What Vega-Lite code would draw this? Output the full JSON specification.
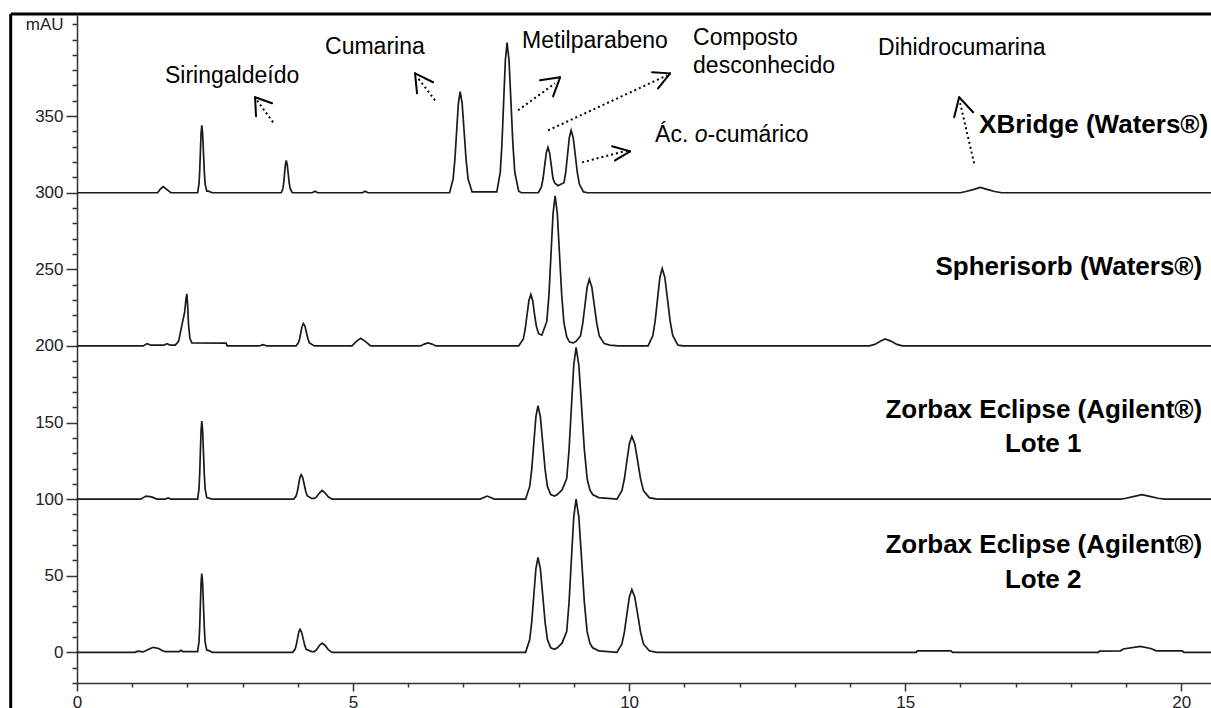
{
"$schema": "https://vega.github.io/schema/vega-lite/v6.json",
"width": 1134, "height": 668,
"autosize": {"type": "none"},
"padding": {"left": 77, "top": 15, "right": 0, "bottom": 25},
"background": "white",
"config": {"view": {"stroke": null}, "font": "Liberation Sans"},
"datasets": {
"traces": [
{"s":"A","t":0,"v":300},{"s":"A","t":1.46,"v":300},{"s":"A","t":1.51,"v":302.4},{"s":"A","t":1.56,"v":304},{"s":"A","t":1.62,"v":302.4},{"s":"A","t":1.70,"v":300},
{"s":"A","t":2.185,"v":300},{"s":"A","t":2.21,"v":305.9},{"s":"A","t":2.2225,"v":314.3},{"s":"A","t":2.235,"v":326.7},{"s":"A","t":2.2475,"v":338.8},{"s":"A","t":2.26,"v":344},{"s":"A","t":2.275,"v":338.8},{"s":"A","t":2.29,"v":326.7},{"s":"A","t":2.305,"v":314.3},{"s":"A","t":2.32,"v":305.9},{"s":"A","t":2.35,"v":301},{"s":"A","t":2.38,"v":301},{"s":"A","t":2.45,"v":300},
{"s":"A","t":3.70,"v":300},{"s":"A","t":3.73,"v":302.8},{"s":"A","t":3.745,"v":306.8},{"s":"A","t":3.76,"v":312.7},{"s":"A","t":3.775,"v":318.5},{"s":"A","t":3.79,"v":321},{"s":"A","t":3.807,"v":318.5},{"s":"A","t":3.825,"v":312.7},{"s":"A","t":3.842,"v":306.8},{"s":"A","t":3.86,"v":302.8},{"s":"A","t":3.90,"v":300},
{"s":"A","t":4.26,"v":300},{"s":"A","t":4.31,"v":301},{"s":"A","t":4.36,"v":300},{"s":"A","t":5.17,"v":300},{"s":"A","t":5.22,"v":301},{"s":"A","t":5.27,"v":300},
{"s":"A","t":6.748,"v":300},{"s":"A","t":6.812,"v":308.9},{"s":"A","t":6.844,"v":321.4},{"s":"A","t":6.876,"v":340},{"s":"A","t":6.908,"v":358.3},{"s":"A","t":6.94,"v":366},{"s":"A","t":6.976,"v":358.3},{"s":"A","t":7.012,"v":340},{"s":"A","t":7.048,"v":321.4},{"s":"A","t":7.084,"v":308.9},{"s":"A","t":7.156,"v":300.5},
{"s":"A","t":7.604,"v":300.5},{"s":"A","t":7.666,"v":313.2},{"s":"A","t":7.697,"v":331.9},{"s":"A","t":7.728,"v":359.5},{"s":"A","t":7.759,"v":386.5},{"s":"A","t":7.79,"v":398},{"s":"A","t":7.825,"v":386.5},{"s":"A","t":7.86,"v":359.5},{"s":"A","t":7.895,"v":331.9},{"s":"A","t":7.93,"v":313.2},{"s":"A","t":8.0,"v":301},{"s":"A","t":8.05,"v":300},
{"s":"A","t":8.356,"v":300},{"s":"A","t":8.414,"v":304},{"s":"A","t":8.443,"v":309.6},{"s":"A","t":8.472,"v":318},{"s":"A","t":8.501,"v":326.1},{"s":"A","t":8.53,"v":329.6},{"s":"A","t":8.56,"v":326.1},{"s":"A","t":8.59,"v":318},{"s":"A","t":8.62,"v":309.6},{"s":"A","t":8.65,"v":306.5},{"s":"A","t":8.71,"v":304.6},
{"s":"A","t":8.82,"v":306.5},{"s":"A","t":8.852,"v":313.2},{"s":"A","t":8.885,"v":324.7},{"s":"A","t":8.917,"v":335.9},{"s":"A","t":8.95,"v":340.7},{"s":"A","t":8.988,"v":335.9},{"s":"A","t":9.025,"v":324.7},{"s":"A","t":9.062,"v":313.2},{"s":"A","t":9.10,"v":305.5},{"s":"A","t":9.175,"v":300.5},{"s":"A","t":9.25,"v":300},
{"s":"A","t":16.0,"v":300},{"s":"A","t":16.1,"v":300.8},{"s":"A","t":16.23,"v":302},{"s":"A","t":16.36,"v":303.5},{"s":"A","t":16.5,"v":302},{"s":"A","t":16.62,"v":300.8},{"s":"A","t":16.75,"v":300},{"s":"A","t":20.6,"v":300},

{"s":"B","t":0,"v":200},{"s":"B","t":1.2,"v":200},{"s":"B","t":1.27,"v":201.5},{"s":"B","t":1.34,"v":200.5},{"s":"B","t":1.57,"v":200.5},{"s":"B","t":1.63,"v":201.5},{"s":"B","t":1.69,"v":200.5},
{"s":"B","t":1.78,"v":200.5},{"s":"B","t":1.84,"v":203},{"s":"B","t":1.88,"v":210},{"s":"B","t":1.92,"v":217},{"s":"B","t":1.95,"v":222},{"s":"B","t":1.975,"v":231},{"s":"B","t":1.99,"v":234},{"s":"B","t":2.005,"v":226},{"s":"B","t":2.02,"v":214},{"s":"B","t":2.045,"v":205},{"s":"B","t":2.08,"v":202},{"s":"B","t":2.7,"v":201.8},{"s":"B","t":2.72,"v":200},
{"s":"B","t":3.3,"v":200},{"s":"B","t":3.37,"v":200.8},{"s":"B","t":3.44,"v":200},
{"s":"B","t":3.965,"v":200},{"s":"B","t":4.01,"v":202},{"s":"B","t":4.033,"v":204.7},{"s":"B","t":4.055,"v":208.9},{"s":"B","t":4.078,"v":212.9},{"s":"B","t":4.10,"v":214.6},{"s":"B","t":4.128,"v":212.9},{"s":"B","t":4.155,"v":208.9},{"s":"B","t":4.183,"v":204.7},{"s":"B","t":4.21,"v":202},{"s":"B","t":4.3,"v":200},
{"s":"B","t":4.98,"v":200},{"s":"B","t":5.06,"v":203},{"s":"B","t":5.14,"v":205},{"s":"B","t":5.22,"v":203},{"s":"B","t":5.32,"v":200},
{"s":"B","t":6.22,"v":200},{"s":"B","t":6.29,"v":201.2},{"s":"B","t":6.36,"v":202},{"s":"B","t":6.43,"v":201.2},{"s":"B","t":6.5,"v":200},
{"s":"B","t":8.0,"v":200},{"s":"B","t":8.084,"v":204.5},{"s":"B","t":8.118,"v":210.9},{"s":"B","t":8.152,"v":220.4},{"s":"B","t":8.186,"v":229.7},{"s":"B","t":8.22,"v":233.6},{"s":"B","t":8.254,"v":229.7},{"s":"B","t":8.288,"v":220.4},{"s":"B","t":8.32,"v":213},{"s":"B","t":8.36,"v":208},{"s":"B","t":8.42,"v":207},
{"s":"B","t":8.46,"v":211},{"s":"B","t":8.51,"v":216},{"s":"B","t":8.548,"v":233},{"s":"B","t":8.585,"v":259.5},{"s":"B","t":8.623,"v":286.5},{"s":"B","t":8.66,"v":298},{"s":"B","t":8.70,"v":286.5},{"s":"B","t":8.74,"v":259.5},{"s":"B","t":8.78,"v":233},{"s":"B","t":8.82,"v":215},{"s":"B","t":8.87,"v":206},{"s":"B","t":8.92,"v":202.5},{"s":"B","t":8.99,"v":202},
{"s":"B","t":9.04,"v":203},{"s":"B","t":9.12,"v":206.5},{"s":"B","t":9.16,"v":214.5},{"s":"B","t":9.20,"v":226.4},{"s":"B","t":9.24,"v":238.4},{"s":"B","t":9.28,"v":243.5},{"s":"B","t":9.325,"v":238.4},{"s":"B","t":9.37,"v":226.4},{"s":"B","t":9.415,"v":214.5},{"s":"B","t":9.46,"v":206.5},{"s":"B","t":9.55,"v":201.5},{"s":"B","t":9.65,"v":200.5},{"s":"B","t":9.8,"v":200},
{"s":"B","t":10.345,"v":200},{"s":"B","t":10.43,"v":206.8},{"s":"B","t":10.4725,"v":216.4},{"s":"B","t":10.515,"v":230.7},{"s":"B","t":10.5575,"v":244.7},{"s":"B","t":10.6,"v":250.6},{"s":"B","t":10.6475,"v":244.7},{"s":"B","t":10.695,"v":230.7},{"s":"B","t":10.7425,"v":216.4},{"s":"B","t":10.79,"v":206.8},{"s":"B","t":10.885,"v":200.5},{"s":"B","t":10.98,"v":200},
{"s":"B","t":14.35,"v":200},{"s":"B","t":14.45,"v":201},{"s":"B","t":14.55,"v":203},{"s":"B","t":14.64,"v":204.5},{"s":"B","t":14.75,"v":203},{"s":"B","t":14.85,"v":201},{"s":"B","t":14.95,"v":200},{"s":"B","t":20.6,"v":200},

{"s":"C","t":0,"v":100},{"s":"C","t":1.15,"v":100},{"s":"C","t":1.25,"v":102},{"s":"C","t":1.35,"v":101.5},{"s":"C","t":1.45,"v":100},{"s":"C","t":1.6,"v":100},{"s":"C","t":1.65,"v":100.8},{"s":"C","t":1.7,"v":100},
{"s":"C","t":2.185,"v":100},{"s":"C","t":2.21,"v":106.9},{"s":"C","t":2.2225,"v":116.6},{"s":"C","t":2.235,"v":131},{"s":"C","t":2.2475,"v":145},{"s":"C","t":2.26,"v":151},{"s":"C","t":2.275,"v":145},{"s":"C","t":2.29,"v":131},{"s":"C","t":2.305,"v":116.6},{"s":"C","t":2.32,"v":106.9},{"s":"C","t":2.35,"v":101},{"s":"C","t":2.45,"v":100},
{"s":"C","t":3.925,"v":100},{"s":"C","t":3.97,"v":102.2},{"s":"C","t":3.9925,"v":105.2},{"s":"C","t":4.015,"v":109.7},{"s":"C","t":4.0375,"v":114.1},{"s":"C","t":4.06,"v":116},{"s":"C","t":4.0875,"v":114.1},{"s":"C","t":4.115,"v":109.7},{"s":"C","t":4.1425,"v":105.2},{"s":"C","t":4.17,"v":102.2},{"s":"C","t":4.25,"v":100.5},{"s":"C","t":4.30,"v":100.5},{"s":"C","t":4.34,"v":101.5},{"s":"C","t":4.39,"v":104},{"s":"C","t":4.44,"v":105.7},{"s":"C","t":4.495,"v":104},{"s":"C","t":4.55,"v":101.5},{"s":"C","t":4.62,"v":100},
{"s":"C","t":7.3,"v":100},{"s":"C","t":7.43,"v":102},{"s":"C","t":7.56,"v":100},
{"s":"C","t":8.125,"v":100},{"s":"C","t":8.2,"v":108.3},{"s":"C","t":8.2375,"v":119.8},{"s":"C","t":8.275,"v":137},{"s":"C","t":8.3125,"v":153.8},{"s":"C","t":8.35,"v":161},{"s":"C","t":8.3925,"v":153.8},{"s":"C","t":8.435,"v":137},{"s":"C","t":8.4775,"v":119.8},{"s":"C","t":8.52,"v":108.3},{"s":"C","t":8.58,"v":103},{"s":"C","t":8.65,"v":102},
{"s":"C","t":8.70,"v":103},{"s":"C","t":8.785,"v":106},{"s":"C","t":8.87,"v":113.4},{"s":"C","t":8.9125,"v":132.2},{"s":"C","t":8.955,"v":160},{"s":"C","t":8.9975,"v":187.4},{"s":"C","t":9.04,"v":199},{"s":"C","t":9.09,"v":187.4},{"s":"C","t":9.14,"v":160},{"s":"C","t":9.19,"v":132.2},{"s":"C","t":9.24,"v":113.4},{"s":"C","t":9.29,"v":106},{"s":"C","t":9.34,"v":103},{"s":"C","t":9.45,"v":101},{"s":"C","t":9.78,"v":100},
{"s":"C","t":9.87,"v":105.5},{"s":"C","t":9.915,"v":113.3},{"s":"C","t":9.96,"v":124.9},{"s":"C","t":10.005,"v":136.2},{"s":"C","t":10.05,"v":141},{"s":"C","t":10.1025,"v":136.2},{"s":"C","t":10.155,"v":124.9},{"s":"C","t":10.2075,"v":113.3},{"s":"C","t":10.26,"v":105.5},{"s":"C","t":10.365,"v":101},{"s":"C","t":10.5,"v":100},
{"s":"C","t":18.9,"v":100},{"s":"C","t":19.0,"v":100.6},{"s":"C","t":19.15,"v":101.8},{"s":"C","t":19.29,"v":103},{"s":"C","t":19.43,"v":101.8},{"s":"C","t":19.58,"v":100.6},{"s":"C","t":19.7,"v":100},{"s":"C","t":20.6,"v":100},

{"s":"D","t":0,"v":0},{"s":"D","t":1.05,"v":0},{"s":"D","t":1.1,"v":0.8},{"s":"D","t":1.2,"v":0.3},{"s":"D","t":1.3,"v":2},{"s":"D","t":1.38,"v":3.3},{"s":"D","t":1.48,"v":2.5},{"s":"D","t":1.55,"v":1},{"s":"D","t":1.6,"v":0.5},{"s":"D","t":1.85,"v":0.5},{"s":"D","t":1.88,"v":1.3},{"s":"D","t":1.92,"v":0.5},
{"s":"D","t":2.185,"v":0.5},{"s":"D","t":2.21,"v":7},{"s":"D","t":2.2225,"v":16.7},{"s":"D","t":2.235,"v":31.2},{"s":"D","t":2.2475,"v":45.5},{"s":"D","t":2.26,"v":51.5},{"s":"D","t":2.275,"v":45.5},{"s":"D","t":2.29,"v":31.2},{"s":"D","t":2.305,"v":16.7},{"s":"D","t":2.32,"v":7},{"s":"D","t":2.35,"v":1.5},{"s":"D","t":2.4,"v":1},{"s":"D","t":2.45,"v":0},
{"s":"D","t":3.905,"v":0},{"s":"D","t":3.95,"v":2},{"s":"D","t":3.9725,"v":4.9},{"s":"D","t":3.995,"v":9.1},{"s":"D","t":4.0175,"v":13.2},{"s":"D","t":4.04,"v":15},{"s":"D","t":4.0675,"v":13.2},{"s":"D","t":4.095,"v":9.1},{"s":"D","t":4.1225,"v":4.9},{"s":"D","t":4.15,"v":2},{"s":"D","t":4.25,"v":0.5},{"s":"D","t":4.30,"v":0.5},{"s":"D","t":4.34,"v":1.8},{"s":"D","t":4.39,"v":4.5},{"s":"D","t":4.44,"v":6},{"s":"D","t":4.495,"v":4.5},{"s":"D","t":4.55,"v":1.8},{"s":"D","t":4.62,"v":0},
{"s":"D","t":8.125,"v":0},{"s":"D","t":8.2,"v":8.4},{"s":"D","t":8.2375,"v":20.1},{"s":"D","t":8.275,"v":37.6},{"s":"D","t":8.3125,"v":54.7},{"s":"D","t":8.35,"v":62},{"s":"D","t":8.3925,"v":54.7},{"s":"D","t":8.435,"v":37.6},{"s":"D","t":8.4775,"v":20.1},{"s":"D","t":8.52,"v":8.4},{"s":"D","t":8.58,"v":3},{"s":"D","t":8.65,"v":2},
{"s":"D","t":8.70,"v":3},{"s":"D","t":8.785,"v":6},{"s":"D","t":8.87,"v":13.5},{"s":"D","t":8.9125,"v":32.5},{"s":"D","t":8.955,"v":60.7},{"s":"D","t":8.9975,"v":88.3},{"s":"D","t":9.04,"v":100},{"s":"D","t":9.09,"v":88.3},{"s":"D","t":9.14,"v":60.7},{"s":"D","t":9.19,"v":32.5},{"s":"D","t":9.24,"v":13.5},{"s":"D","t":9.29,"v":6},{"s":"D","t":9.34,"v":3},{"s":"D","t":9.45,"v":1},{"s":"D","t":9.78,"v":0},
{"s":"D","t":9.87,"v":5.5},{"s":"D","t":9.915,"v":13.3},{"s":"D","t":9.96,"v":24.9},{"s":"D","t":10.005,"v":36.2},{"s":"D","t":10.05,"v":41},{"s":"D","t":10.1025,"v":36.2},{"s":"D","t":10.155,"v":24.9},{"s":"D","t":10.2075,"v":13.3},{"s":"D","t":10.26,"v":5.5},{"s":"D","t":10.365,"v":1},{"s":"D","t":10.5,"v":0},
{"s":"D","t":15.2,"v":0},{"s":"D","t":15.22,"v":1},{"s":"D","t":15.83,"v":1},{"s":"D","t":15.86,"v":0},
{"s":"D","t":18.5,"v":0},{"s":"D","t":18.52,"v":0.8},{"s":"D","t":18.9,"v":1},{"s":"D","t":18.95,"v":2.2},{"s":"D","t":19.26,"v":3.9},{"s":"D","t":19.45,"v":2.5},{"s":"D","t":19.55,"v":1},{"s":"D","t":20.02,"v":1},{"s":"D","t":20.05,"v":0},{"s":"D","t":20.6,"v":0}
],
"labels": [
{"k":"plain","txt":"Siringaldeído","t":1.594,"v":371.4},
{"k":"plain","txt":"Cumarina","t":4.493,"v":390.3},
{"k":"plain","txt":"Metilparabeno","t":8.062,"v":394.3},
{"k":"plain","txt":"Composto","t":11.159,"v":396.2},
{"k":"plain","txt":"desconhecido","t":11.159,"v":377.9},
{"k":"plain","txt":"Ác. ","t":10.471,"v":332.9},
{"k":"italic","txt":"o","t":11.188,"v":332.9},
{"k":"plain","txt":"-cumárico","t":11.42,"v":332.9},
{"k":"plain","txt":"Dihidrocumarina","t":14.51,"v":389.7},
{"k":"boldr","txt":"XBridge (Waters®)","t":20.489,"v":338.8},
{"k":"boldr","txt":"Spherisorb (Waters®)","t":20.38,"v":246.1},
{"k":"boldr","txt":"Zorbax Eclipse (Agilent®)","t":20.38,"v":152.7},
{"k":"boldc","txt":"Lote 1","t":17.5,"v":130.5},
{"k":"boldr","txt":"Zorbax Eclipse (Agilent®)","t":20.38,"v":64.6},
{"k":"boldc","txt":"Lote 2","t":17.5,"v":41.8}
],
"arrows": [
{"k":"dot","t":3.551,"v":345.95,"t2":3.261,"v2":360.3},
{"k":"head","t":3.225,"v":362.3,"t2":3.533,"v2":358.4},
{"k":"head","t":3.225,"v":362.3,"t2":3.243,"v2":349.9},
{"k":"dot","t":6.486,"v":360.3,"t2":6.178,"v2":374.7},
{"k":"head","t":6.123,"v":377.9,"t2":6.449,"v2":372.1},
{"k":"head","t":6.123,"v":377.9,"t2":6.159,"v2":364.9},
{"k":"dot","t":7.989,"v":353.8,"t2":8.659,"v2":371.4},
{"k":"head","t":8.75,"v":375.3,"t2":8.388,"v2":373.4},
{"k":"head","t":8.75,"v":375.3,"t2":8.623,"v2":362.9},
{"k":"dot","t":8.533,"v":340.7,"t2":10.688,"v2":376.6},
{"k":"head","t":10.743,"v":377.9,"t2":10.417,"v2":378.6},
{"k":"head","t":10.743,"v":377.9,"t2":10.525,"v2":368.1},
{"k":"dot","t":9.149,"v":319.8,"t2":9.982,"v2":327.7},
{"k":"head","t":10.018,"v":327.0,"t2":9.692,"v2":330.3},
{"k":"head","t":10.018,"v":327.0,"t2":9.746,"v2":321.1},
{"k":"dot","t":16.25,"v":319.2,"t2":15.996,"v2":358.4},
{"k":"head","t":15.978,"v":362.3,"t2":15.888,"v2":349.2},
{"k":"head","t":15.978,"v":362.3,"t2":16.232,"v2":352.5}
],
"frame": [
{"t":-1.201,"v":-40,"t2":-1.201,"v2":416.6},
{"t":-1.201,"v":416.6,"t2":22,"v2":416.6}
]
},
"encoding": {
"x": {"field":"t","type":"quantitative","title":null,
  "scale":{"domain":[0,20.54],"nice":false,"zero":false},
  "axis":{"values":[0,1,2,3,4,5,6,7,8,9,10,11,12,13,14,15,16,17,18,19,20],
    "labelExpr":"datum.value % 5 === 0 ? datum.label : ''",
    "tickSize":{"condition":{"test":"datum.value % 5 === 0","value":8},"value":4},
    "labelFlush":false,"labelOverlap":false,"labelBound":false,
    "labelFont":"Liberation Sans","labelFontSize":17,"labelColor":"#222","labelPadding":3,
    "domainColor":"#333","domainWidth":1.5,"tickColor":"#333","tickWidth":1.5,"grid":false}},
"y": {"field":"v","type":"quantitative","title":null,
  "scale":{"domain":[-20,416],"nice":false,"zero":false},
  "axis":{"values":[-20,-10,0,10,20,30,40,50,60,70,80,90,100,110,120,130,140,150,160,170,180,190,200,210,220,230,240,250,260,270,280,290,300,310,320,330,340,350,360,370,380,390,400,410],
    "labelExpr":"datum.value === 410 ? 'mAU' : ((datum.value >= 0 && datum.value <= 350 && datum.value % 50 === 0) ? datum.label : '')",
    "tickSize":{"condition":{"test":"datum.value >= 0 && datum.value <= 350 && datum.value % 50 === 0","value":11},"value":5},
    "labelPadding":{"condition":{"test":"datum.value === 410","value":9},"value":3},
    "labelFlush":false,"labelOverlap":false,"labelBound":false,
    "labelFont":"Liberation Sans","labelFontSize":17,"labelColor":"#222",
    "domainColor":"#333","domainWidth":1.5,"tickColor":"#333","tickWidth":1.5,"grid":false}}
},
"layer": [
{"data":{"name":"frame"},"mark":{"type":"rule","color":"black","strokeWidth":3,"clip":false},
 "encoding":{"x2":{"field":"t2"},"y2":{"field":"v2"}}},
{"data":{"name":"traces"},"mark":{"type":"line","color":"#1a1a1a","strokeWidth":1.7},
 "encoding":{"detail":{"field":"s","type":"nominal"}}},
{"data":{"name":"arrows"},"transform":[{"filter":"datum.k === 'dot'"}],
 "mark":{"type":"rule","color":"black","strokeWidth":2,"strokeDash":[2,3]},
 "encoding":{"x2":{"field":"t2"},"y2":{"field":"v2"}}},
{"data":{"name":"arrows"},"transform":[{"filter":"datum.k === 'head'"}],
 "mark":{"type":"rule","color":"black","strokeWidth":2,"strokeCap":"round"},
 "encoding":{"x2":{"field":"t2"},"y2":{"field":"v2"}}},
{"data":{"name":"labels"},"transform":[{"filter":"datum.k === 'plain'"}],
 "mark":{"type":"text","align":"left","baseline":"alphabetic","font":"Liberation Sans","fontSize":23,"color":"black"},
 "encoding":{"text":{"field":"txt"}}},
{"data":{"name":"labels"},"transform":[{"filter":"datum.k === 'italic'"}],
 "mark":{"type":"text","align":"left","baseline":"alphabetic","font":"Liberation Sans","fontSize":23,"fontStyle":"italic","color":"black"},
 "encoding":{"text":{"field":"txt"}}},
{"data":{"name":"labels"},"transform":[{"filter":"datum.k === 'boldr'"}],
 "mark":{"type":"text","align":"right","baseline":"alphabetic","font":"Liberation Sans","fontSize":26,"fontWeight":"bold","color":"black"},
 "encoding":{"text":{"field":"txt"}}},
{"data":{"name":"labels"},"transform":[{"filter":"datum.k === 'boldc'"}],
 "mark":{"type":"text","align":"center","baseline":"alphabetic","font":"Liberation Sans","fontSize":26,"fontWeight":"bold","color":"black"},
 "encoding":{"text":{"field":"txt"}}}
]
}
